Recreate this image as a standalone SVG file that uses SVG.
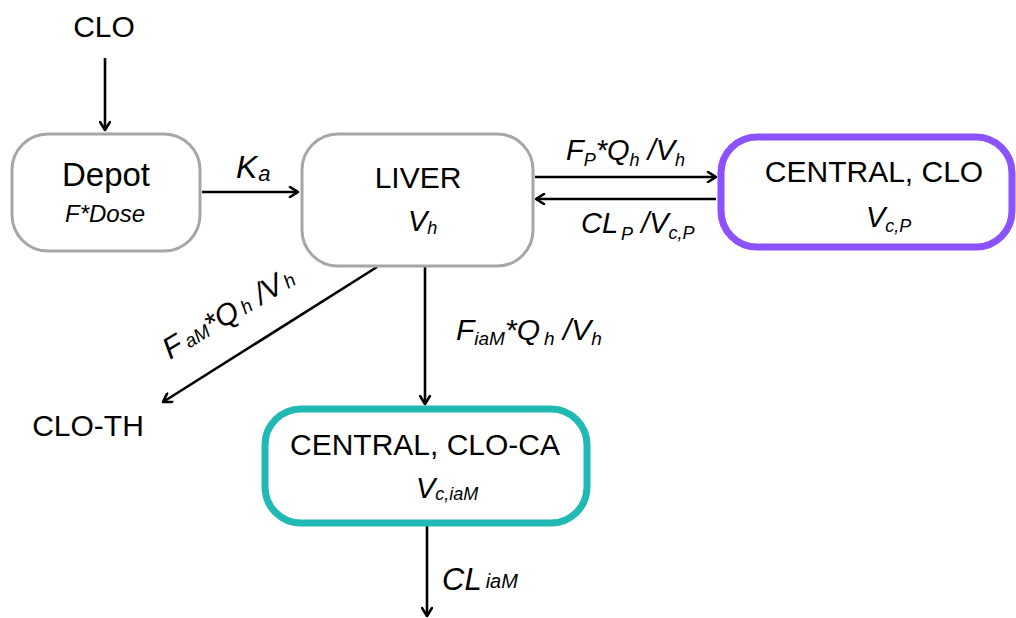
<svg xmlns="http://www.w3.org/2000/svg" width="1016" height="618" viewBox="0 0 1016 618">
<defs>
<marker id="ah" viewBox="0 0 12 12" refX="10" refY="6" markerWidth="12" markerHeight="12" markerUnits="userSpaceOnUse" orient="auto">
<path d="M2,1 L10,6 L2,11" fill="none" stroke="#000" stroke-width="2.6" stroke-linecap="round" stroke-linejoin="round"/>
</marker>
<style>
.t{font-family:"Liberation Sans",Arial,sans-serif;fill:#000;}
.n{font-size:30px;}
.i{font-style:italic;font-size:29px;}
.s{font-style:italic;font-size:18px;}
.box{fill:#fff;}
.g{stroke:#a6a6a6;stroke-width:3;}
.c{stroke:#000;stroke-width:2.6;fill:none;marker-end:url(#ah);}
</style>
</defs>
<rect width="1016" height="618" fill="#fff"/>
<g id="connectors">
<line class="c" x1="105" y1="58" x2="105" y2="130"/>
<line class="c" x1="202" y1="192" x2="298" y2="192"/>
<line class="c" x1="535" y1="177" x2="716" y2="177"/>
<line class="c" x1="716" y1="199" x2="536" y2="199"/>
<line class="c" x1="377" y1="267" x2="163" y2="402"/>
<line class="c" x1="425" y1="267" x2="425" y2="404"/>
<line class="c" x1="427" y1="526" x2="427" y2="616"/>
<text class="t i" x="236" y="178" style="font-size:32px">K<tspan class="s" dx="1" dy="3" style="font-size:22px">a</tspan></text>
<text class="t i" x="566" y="160">F<tspan class="s" dy="6">P</tspan><tspan dy="-6">*Q</tspan><tspan class="s" dy="6">h</tspan><tspan dy="-6"> /V</tspan><tspan class="s" dy="6">h</tspan></text>
<text class="t i" x="581" y="233">CL<tspan class="s" dx="3" dy="7">P</tspan><tspan dy="-7"> /V</tspan><tspan class="s" dy="6">c,P</tspan></text>
<text class="t i" x="456" y="340" style="font-size:30px">F<tspan class="s" dy="5" style="font-size:19px">iaM</tspan><tspan dy="-5">*Q</tspan><tspan class="s" dx="4" dy="5" style="font-size:19px">h</tspan><tspan dy="-5"> /V</tspan><tspan class="s" dy="5" style="font-size:19px">h</tspan></text>
<text class="t i" transform="translate(170,360) rotate(-31)" x="0" y="0" style="font-size:30px">F<tspan class="s" dx="4" style="font-size:19px">aM</tspan>*Q<tspan class="s" dx="4" style="font-size:19px">h</tspan> /V<tspan class="s" dx="3" style="font-size:19px">h</tspan></text>
<text class="t i" x="442" y="590" style="font-size:31px">CL<tspan class="s" dx="4" dy="-2" style="font-size:20px">iaM</tspan></text>
<text class="t n" x="104" y="37" text-anchor="middle">CLO</text>
<text class="t n" x="88" y="436" text-anchor="middle">CLO-TH</text>
</g>
<g id="depot">
<rect class="box g" x="12" y="134" width="188" height="117" rx="36"/>
<text class="t n" x="106" y="186" text-anchor="middle" style="font-size:33px">Depot</text>
<text class="t" x="105" y="222" text-anchor="middle" style="font-size:24px;font-style:italic">F*Dose</text>
</g>
<g id="liver">
<rect class="box g" x="302" y="134" width="231" height="132" rx="36"/>
<text class="t n" x="418" y="188" text-anchor="middle">LIVER</text>
<text class="t i" x="408" y="231">V<tspan class="s" dy="3">h</tspan></text>
</g>
<g id="central-clo">
<rect class="box" x="721" y="137" width="291" height="110" rx="36" stroke="#8c52ff" stroke-width="7"/>
<text class="t n" x="874" y="182" text-anchor="middle">CENTRAL, CLO</text>
<text class="t i" x="866" y="227">V<tspan class="s" dy="5">c,P</tspan></text>
</g>
<g id="central-clo-ca">
<rect class="box" x="265" y="409" width="322" height="114" rx="36" stroke="#20b9b3" stroke-width="7"/>
<text class="t n" x="425" y="455" text-anchor="middle">CENTRAL, CLO-CA</text>
<text class="t i" x="416" y="498">V<tspan class="s" dy="2">c,iaM</tspan></text>
</g>
</svg>
